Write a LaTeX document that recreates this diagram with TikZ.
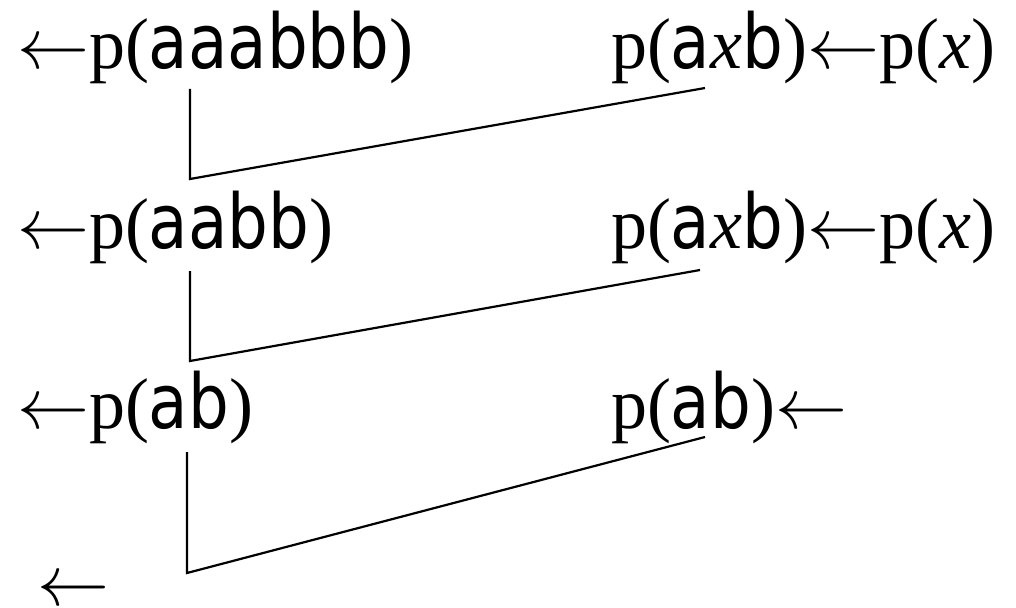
\RequirePackage{fix-cm}
\documentclass[tikz,border=0pt]{standalone}
\usepackage{fontspec}
\setmainfont{Liberation Serif}
\newfontfamily\tsans[Scale=1.05,FakeStretch=0.85]{DejaVu Sans}
\newcommand{\sv}[1]{{\tsans #1}}
\newcommand{\la}{$\leftarrow$}
\begin{document}
\begin{tikzpicture}[x=1pt,y=-1pt,
  txt/.style={anchor=base west,inner sep=0pt,outer sep=0pt,font=\fontsize{72}{86}\selectfont},
  conn/.style={line width=2.2pt,line join=miter}]
\useasboundingbox (0,0) rectangle (1016,607);
% row 1
\node[txt] (l1) at (17,69) {\la p(\sv{aaabbb})};
\node[txt] (r1) at (611,69) {p(\sv{a}\textit{x}\sv{b})\la p(\textit{x})};
% row 2
\node[txt] (l2) at (17,248) {\la p(\sv{aabb})};
\node[txt] (r2) at (611,248) {p(\sv{a}\textit{x}\sv{b})\la p(\textit{x})};
% row 3
\node[txt] (l3) at (17,428) {\la p(\sv{ab})};
\node[txt] (r3) at (611,428) {p(\sv{ab})\la};
% row 4
\node[txt] (l4) at (37,605) {\la};
% connectors
\coordinate (a1) at (190,89);
\coordinate (b1) at (190,179);
\coordinate (c1) at (705,88);
\coordinate (a2) at (190,271);
\coordinate (b2) at (190,361);
\coordinate (c2) at (700,270);
\coordinate (a3) at (187,452);
\coordinate (b3) at (187,573);
\coordinate (c3) at (705,437);
\draw[conn] (a1) -- (b1) -- (c1);
\draw[conn] (a2) -- (b2) -- (c2);
\draw[conn] (a3) -- (b3) -- (c3);
\end{tikzpicture}
\end{document}
